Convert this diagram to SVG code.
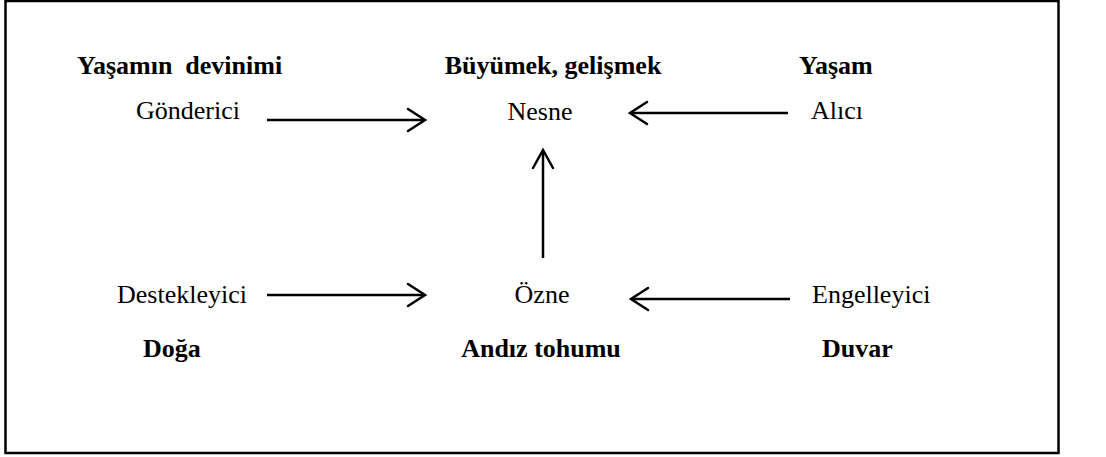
<svg xmlns="http://www.w3.org/2000/svg" width="1106" height="457" viewBox="0 0 1106 457">
  <defs>
    <style>
      text { font-family: "Liberation Serif", "Times New Roman", serif; font-size: 26px; fill: #000; white-space: pre; }
      .b { font-weight: bold; }
      .ln { stroke: #000; stroke-width: 2.5; fill: none; }
      .hd { stroke: #000; stroke-width: 2.5; fill: none; stroke-linecap: round; stroke-linejoin: miter; }
    </style>
  </defs>
  <rect x="0" y="0" width="1106" height="457" fill="#fff"/>
  <rect x="5.5" y="1" width="1053" height="452" fill="none" stroke="#000" stroke-width="2.5"/>

  <g id="gonderici">
    <text class="b" x="77" y="74" xml:space="preserve">Yaşamın  devinimi</text>
    <text x="136" y="119">Gönderici</text>
  </g>
  <g id="nesne">
    <text class="b" x="553" y="74" text-anchor="middle">Büyümek, gelişmek</text>
    <text x="540" y="120" text-anchor="middle">Nesne</text>
  </g>
  <g id="alici">
    <text class="b" x="799" y="74">Yaşam</text>
    <text x="811" y="119">Alıcı</text>
  </g>
  <g id="destekleyici">
    <text x="117" y="303">Destekleyici</text>
    <text class="b" x="143" y="357">Doğa</text>
  </g>
  <g id="ozne">
    <text x="542" y="303" text-anchor="middle">Özne</text>
    <text class="b" x="541" y="357" text-anchor="middle">Andız tohumu</text>
  </g>
  <g id="engelleyici">
    <text x="812" y="303">Engelleyici</text>
    <text class="b" x="822" y="357">Duvar</text>
  </g>

  <g id="connectors">
    <line class="ln" x1="267" y1="120" x2="424" y2="120"/>
    <polyline class="hd" points="408,109 425,120 408,131"/>
    <line class="ln" x1="788" y1="113" x2="631" y2="113"/>
    <polyline class="hd" points="647,102 630,113 647,124"/>
    <line class="ln" x1="543" y1="258" x2="543" y2="151"/>
    <polyline class="hd" points="533,168 543,150 553,168"/>
    <line class="ln" x1="267" y1="295" x2="424" y2="295"/>
    <polyline class="hd" points="408,284 425,295 408,306"/>
    <line class="ln" x1="790" y1="299" x2="632" y2="299"/>
    <polyline class="hd" points="648,288 631,299 648,310"/>
  </g>
</svg>
